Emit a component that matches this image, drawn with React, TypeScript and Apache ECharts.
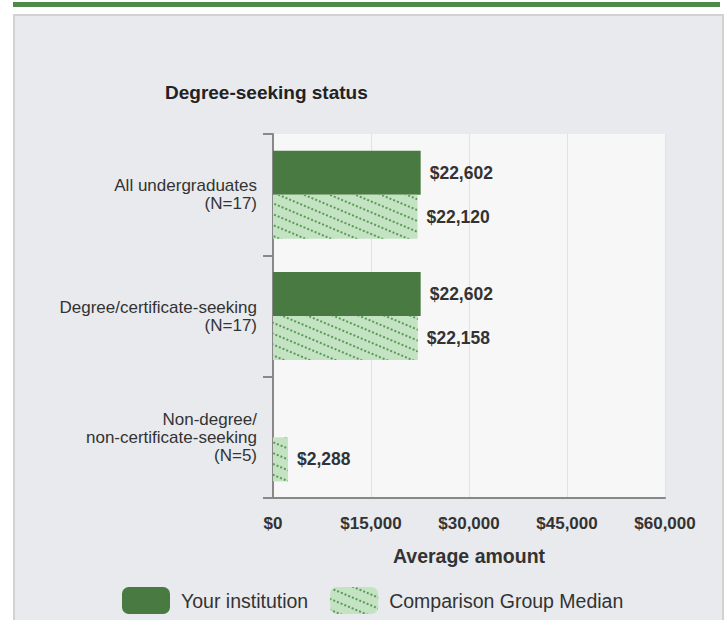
import React, { useEffect, useRef } from "react";
import * as echarts from "echarts";

const categories = [
  "All undergraduates\n(N=17)",
  "Degree/certificate-seeking\n(N=17)",
  "Non-degree/\nnon-certificate-seeking\n(N=5)",
];
const yourInstitution: (number | null)[] = [22602, 22602, null];
const comparisonMedian: number[] = [22120, 22158, 2288];
const xTicks = { min: 0, max: 60000, interval: 15000 };
const seriesNames = ["Your institution", "Comparison Group Median"];
const titleText = "Degree-seeking status";
const axisName = "Average amount";

const FONT = 'Arial, "Liberation Sans", sans-serif';
const money = (v: number) => "$" + Math.round(v).toLocaleString("en-US");

export default function App() {
  const ref = useRef<HTMLDivElement>(null);
  useEffect(() => {
    if (!ref.current) return;
    const chart = echarts.init(ref.current, undefined, { renderer: "svg" });
    const decal = {
      symbol: "rect",
      symbolSize: 1,
      color: "#5a9a55",
      dashArrayX: [[2, 2]],
      dashArrayY: [2, 8],
      rotation: 0.4,
    };
    const labelStyle = {
      show: true,
      position: "right",
      distance: 9,
      formatter: (p: any) => money(p.value),
      fontFamily: FONT,
      fontSize: 17.5,
      fontWeight: "bold",
      color: "#333",
    };
    chart.setOption({
      animation: false,
      backgroundColor: "transparent",
      textStyle: { fontFamily: FONT },
      title: {
        text: titleText,
        left: 160,
        top: 78,
        textStyle: { fontFamily: FONT, fontSize: 19, fontWeight: "bold", color: "#222" },
      },
      legend: {
        left: 117,
        top: 582,
        itemWidth: 48,
        itemHeight: 27,
        itemGap: 22,
        icon: "roundRect",
        textStyle: { fontFamily: FONT, fontSize: 19.5, color: "#333", padding: [0, 0, 0, 6] },
        data: seriesNames,
      },
      grid: {
        left: 273,
        right: 61,
        top: 134,
        bottom: 122,
        show: true,
        backgroundColor: "#f7f7f7",
        borderWidth: 0,
      },
      xAxis: {
        type: "value",
        min: xTicks.min,
        max: xTicks.max,
        interval: xTicks.interval,
        name: axisName,
        nameLocation: "middle",
        nameGap: 48,
        nameTextStyle: { fontFamily: FONT, fontSize: 19.5, fontWeight: "bold", color: "#333" },
        axisLine: { show: true, lineStyle: { color: "#888", width: 2 } },
        axisTick: { show: false },
        axisLabel: {
          formatter: (v: number) => money(v),
          fontFamily: FONT,
          fontSize: 17,
          fontWeight: "bold",
          color: "#333",
          margin: 17,
        },
        splitLine: { show: true, lineStyle: { color: "#dde3ee", width: 1 } },
      },
      yAxis: {
        type: "category",
        inverse: true,
        data: categories,
        axisLine: { show: true, lineStyle: { color: "#888", width: 2 } },
        axisTick: { show: true, length: 10, lineStyle: { color: "#888", width: 2 } },
        axisLabel: {
          fontFamily: FONT,
          fontSize: 17,
          color: "#333",
          margin: 16,
          align: "right",
          lineHeight: 18,
        },
        splitLine: { show: false },
      },
      series: [
        {
          name: seriesNames[0],
          type: "bar",
          data: yourInstitution,
          barWidth: 44,
          barGap: "0%",
          itemStyle: { color: "#487a42" },
          label: labelStyle,
        },
        {
          name: seriesNames[1],
          type: "bar",
          data: comparisonMedian,
          barWidth: 44,
          barGap: "0%",
          itemStyle: { color: "#c3e3c3", decal },
          label: labelStyle,
        },
      ],
    });
    return () => chart.dispose();
  }, []);

  return (
    <div style={{ position: "fixed", left: 0, top: 0, width: 726, height: 620, background: "#fff", overflow: "hidden" }}>
      <div style={{ position: "absolute", left: 13, top: 2, width: 707, height: 5, background: "#4f8a4a" }} />
      <div
        style={{
          position: "absolute",
          left: 13,
          top: 14,
          width: 707,
          height: 620,
          background: "#e9eaee",
          borderLeft: "2px solid #d2d2d2",
          borderRight: "2px solid #d2d2d2",
          borderTop: "2px solid #d2d2d2",
        }}
      />
      <div ref={ref} style={{ position: "absolute", left: 0, top: 0, width: 726, height: 620 }} />
    </div>
  );
}
